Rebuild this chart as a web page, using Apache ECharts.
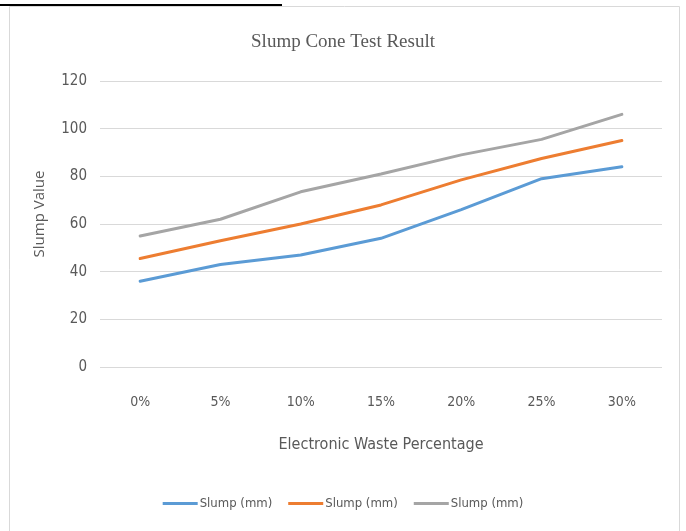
<!DOCTYPE html>
<html>
<head>
<meta charset="utf-8">
<script src="https://cdn.jsdelivr.net/npm/echarts@6/dist/echarts.min.js"></script>
<style>
  html, body { margin: 0; padding: 0; background: #fff; }
  #chart { width: 686px; height: 531px; }
</style>
</head>
<body>
<div id="chart"></div>
<script>
// Slump results for increasing electronic waste content
const categories = ['0%', '5%', '10%', '15%', '20%', '25%', '30%'];
const seriesNames = ['Slump (mm)', 'Slump (mm)', 'Slump (mm)'];
const slumpA = [36, 43, 47, 54, 66, 79, 84];
const slumpB = [45.5, 53, 60, 68, 78.5, 87.5, 95];
const slumpC = [55, 62, 73.5, 81, 89, 95.5, 106];
const yTicks = { min: 0, max: 120, interval: 20 };

const colors = ['#5B9BD5', '#ED7D31', '#A5A5A5'];
const narrow = "'Liberation Sans Narrow', 'DejaVu Sans Condensed', 'Liberation Sans', sans-serif";

const chart = echarts.init(document.getElementById('chart'), null, { renderer: 'canvas' });

const seriesData = [slumpA, slumpB, slumpC];

chart.setOption({
  animation: false,
  backgroundColor: '#ffffff',
  color: colors,
  graphic: [
    { type: 'rect', shape: { x: 9.5, y: 6.5, width: 670, height: 530 },
      style: { fill: 'none', stroke: '#d9d9d9', lineWidth: 1 }, silent: true },
    { type: 'line', shape: { x1: 0, y1: 5, x2: 282, y2: 5 },
      style: { stroke: '#000000', lineWidth: 2 }, silent: true },
    // vertical axis title
    { type: 'text', x: 40, y: 214, rotation: Math.PI / 2, silent: true,
      style: { text: 'Slump Value', fill: '#595959', align: 'center', verticalAlign: 'middle',
        font: "15px 'Open Sans', 'DejaVu Sans', sans-serif" } }
  ],
  title: {
    text: 'Slump Cone Test Result',
    left: 'center',
    top: 28,
    textStyle: { fontFamily: "'Liberation Serif', 'DejaVu Serif', serif", fontSize: 19, fontWeight: 'normal', color: '#595959' }
  },
  grid: { left: 100, right: 24, top: 81, bottom: 164 },
  legend: {
    bottom: 16,
    left: 'center',
    icon: 'rect',
    itemWidth: 35,
    itemHeight: 3,
    itemGap: 16,
    data: [
      { name: 's0', itemStyle: { color: colors[0] } },
      { name: 's1', itemStyle: { color: colors[1] } },
      { name: 's2', itemStyle: { color: colors[2] } }
    ],
    formatter: function (name) { return seriesNames[+name.slice(1)]; },
    textStyle: { fontFamily: narrow, fontSize: 13, color: '#595959', padding: [0, 0, 0, -3] }
  },
  xAxis: {
    type: 'category',
    data: categories,
    boundaryGap: true,
    name: 'Electronic Waste Percentage',
    nameLocation: 'middle',
    nameGap: 70,
    nameTextStyle: { fontFamily: narrow, fontSize: 16, color: '#595959' },
    axisLine: { show: false },
    axisTick: { show: false },
    axisLabel: { margin: 28, fontFamily: narrow, fontSize: 14, color: '#595959' }
  },
  yAxis: {
    type: 'value',
    min: yTicks.min,
    max: yTicks.max,
    interval: yTicks.interval,
    axisLine: { show: false },
    axisTick: { show: false },
    axisLabel: { margin: 13, fontFamily: narrow, fontSize: 15, color: '#595959' },
    splitLine: { lineStyle: { color: '#d9d9d9', width: 1 } }
  },
  series: seriesData.map(function (vals, i) {
    return {
      name: 's' + i,
      type: 'line',
      data: vals,
      showSymbol: false,
      symbol: 'none',
      lineStyle: { width: 3, color: colors[i], cap: 'round' },
      itemStyle: { color: colors[i] }
    };
  })
});
</script>
</body>
</html>
